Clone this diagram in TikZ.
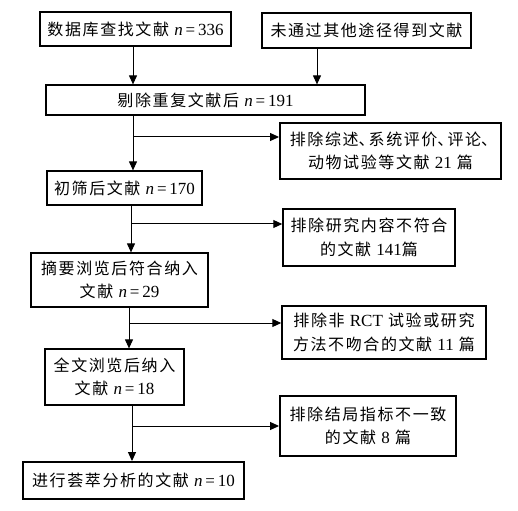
\documentclass[tikz,border=0pt]{standalone}
\usepackage{fontspec}
\setmainfont{Liberation Serif}
\newfontfamily\cjk[LetterSpace=10]{Noto Sans CJK SC}
\usepackage{tikz}
\usetikzlibrary{arrows.meta,positioning,calc}
% italic n with math-like spacing round the equals sign
\newcommand{\ncount}[1]{{\rmfamily\fontsize{17}{23.5}\selectfont\textit{n}\,=\,#1}}
% narrow enumeration comma
\newcommand{\dun}{\makebox[10pt][l]{、}}

\begin{document}
\begin{tikzpicture}[
      x=1pt,
      y=-1pt,
      line join=miter,
      flowbox/.style={draw=black, line width=1.2pt, inner sep=0pt,
        align=center, font=\cjk\fontsize{16}{23.5}\selectfont},
      heavybox/.style={flowbox, line width=1.9pt},
      flowline/.style={draw=black, line width=1pt},
      flowarrow/.style={flowline, -{Triangle[length=9pt,width=8pt]}}
    ]
      \useasboundingbox (0,0) rectangle (518,510);

      % Main column of the flow chart.
      \node[flowbox, minimum width=191pt, minimum height=34pt]
        (search) at (135.5,29) {数据库查找文献 \ncount{336}};
      \node[heavybox, minimum width=209pt, minimum height=35pt]
        (other) at (366.5,30.5) {未通过其他途径得到文献};
      \node[flowbox, minimum width=319pt, minimum height=30pt]
        (dedup) at (205.5,100) {剔除重复文献后 \ncount{191}};
      \node[flowbox, minimum width=155pt, minimum height=34pt]
        (screen) at (124.5,188) {初筛后文献 \ncount{170}};
      \node[flowbox, minimum width=177pt, minimum height=54pt]
        (abstract) at (119.5,280) {摘要浏览后符合纳入\\文献 \ncount{29}};
      \node[flowbox, minimum width=139pt, minimum height=56pt]
        (fulltext) at (114.5,377) {全文浏览后纳入\\文献 \ncount{18}};
      \node[heavybox, minimum width=221pt, minimum height=37pt]
        (meta) at (133.5,480.5) {进行荟萃分析的文献 \ncount{10}};

      % Excluded records on the right.
      \node[heavybox, minimum width=221pt, minimum height=56pt]
        (exreview) at (390.5,151)
        {排除综述\dun 系统评价\dun 评论\dun\\动物试验等文献 {\rmfamily\fontsize{17}{23.5}\selectfont 21} 篇};
      \node[flowbox, line width=1.5pt, minimum width=172pt, minimum height=57pt]
        (excontent) at (369,237.5)
        {排除研究内容不符合\\的文献 {\rmfamily\fontsize{17}{23.5}\selectfont 141}篇};
      \node[flowbox, line width=1.5pt, minimum width=204pt, minimum height=53pt]
        (exrct) at (384,332.5)
        {排除非 {\rmfamily\fontsize{17}{23.5}\selectfont RCT} 试验或研究\\方法不吻合的文献 {\rmfamily\fontsize{17}{23.5}\selectfont 11} 篇};
      \node[heavybox, minimum width=176pt, minimum height=60pt]
        (exoutcome) at (368,426)
        {排除结局指标不一致\\的文献 {\rmfamily\fontsize{17}{23.5}\selectfont 8} 篇};

      % Merge of the two sources.
      \coordinate (mergeA) at (133,0);
      \coordinate (mergeB) at (317,0);
      \draw[flowarrow] (search.south -| mergeA) -- (dedup.north -| mergeA);
      \draw[flowarrow] (other.south -| mergeB) -- (dedup.north -| mergeB);

      % Each step: trunk down, branch to the exclusion box.
      \foreach \from/\to/\out/\jx/\jy in {
          dedup/screen/exreview/133/137,
          screen/abstract/excontent/131/224,
          abstract/fulltext/exrct/129/323,
          fulltext/meta/exoutcome/132/426} {
        \coordinate (fork) at (\jx,\jy);
        \draw[flowarrow] (\from.south -| fork) -- (\to.north -| fork);
        \draw[flowarrow] (fork) -- (\out.west |- fork);
      }
    \end{tikzpicture}
\end{document}
